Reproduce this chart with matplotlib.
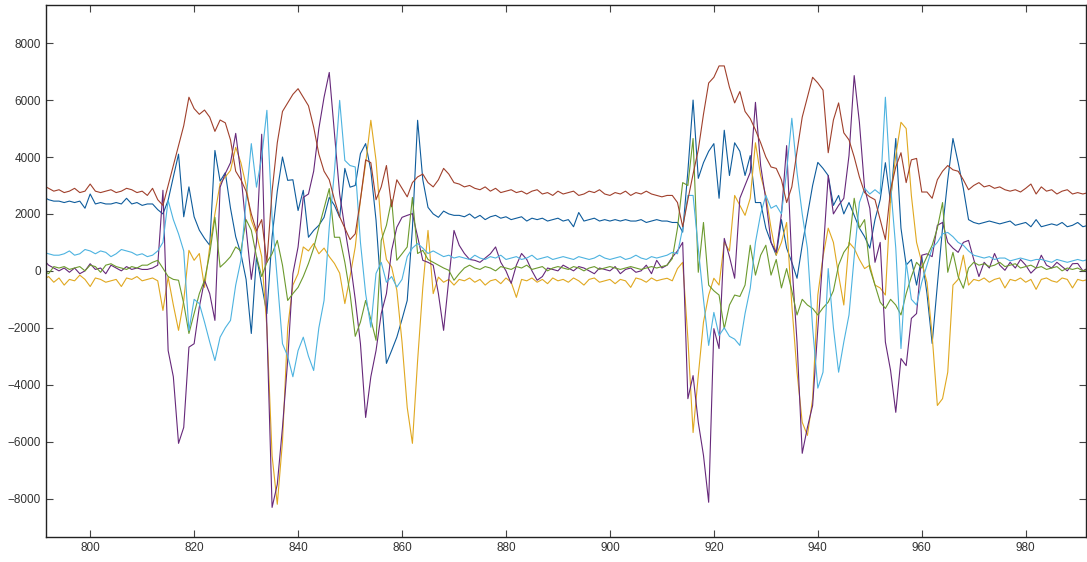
import numpy as np
import matplotlib as mpl
mpl.use('Agg')
import matplotlib.pyplot as plt

# sample index (x axis)
x = np.arange(791, 993)

blue = [2600, 2500, 2450, 2450, 2400, 2450, 2400, 2450, 2200, 2700,
        2350, 2400, 2350, 2350, 2400, 2350, 2550, 2350, 2400, 2300,
        2350, 2350, 2150, 2000, 2480, 3300, 4100, 1900, 2950, 1900,
        1430, 1140, 900, 4230, 3150, 3450, 2200, 1200, 600, -300,
        -2200, 500, -500, -1500, 1200, 2800, 4000, 3180, 3200, 2120,
        2830, 1180, 1420, 1600, 1880, 2580, 2300, 1880, 3600, 2940,
        3000, 4120, 4470, 3530, 1780, -790, -3250, -2800, -2330, -1700,
        -1040, 1500, 5290, 3200, 2230, 2000, 1880, 2100, 2000, 1950,
        1950, 1900, 2000, 1850, 1950, 1800, 1900, 1950, 1850, 1900,
        1800, 1850, 1900, 1750, 1850, 1800, 1850, 1750, 1800, 1850,
        1750, 1800, 1550, 2050, 1750, 1800, 1850, 1750, 1800, 1750,
        1800, 1750, 1800, 1750, 1750, 1800, 1700, 1750, 1800, 1750,
        1750, 1700, 1700, 1360, 3500, 6000, 3250, 3800, 4200, 4470,
        2550, 4940, 3350, 4500, 4200, 3350, 4050, 2400, 2400, 1500,
        1000, 550, 1800, 800, 300, -260, 900, 1950, 3000, 3810,
        3600, 3350, 2300, 2650, 2000, 2400, 1950, 1500, 1200, 800,
        1800, 2500, 3800, 2400, 4650, 1500, 200, 400, -500, 500,
        -800, -2550, -500, 1500, 3200, 4650, 3800, 2900, 1800, 1700,
        1650, 1700, 1750, 1700, 1650, 1700, 1750, 1600, 1650, 1700,
        1550, 1800, 1550, 1600, 1650, 1600, 1700, 1550, 1600, 1700,
        1550, 1600]

yellow = [-300, -200, -400, -250, -500, -300, -350, -150, -300, -550,
          -250, -300, -400, -350, -300, -550, -250, -300, -200, -350,
          -300, -250, -350, -1390, -220, -1200, -2090, -1040, 720, 370,
          610, -580, 840, 2000, 3070, 3300, 3530, 4340, 3800, 3000,
          1780, 1300, 500, -2000, -6500, -8200, -6000, -2000, -500, -100,
          840, 700, 960, 600, 800, 500, 260, -80, -1150, -200,
          840, 2500, 3770, 5290, 3880, 1530, 400, 130, -680, -2500,
          -4800, -6060, -3150, -580, 1420, -800, -220, -400, -300, -500,
          -300, -350, -250, -400, -300, -500, -350, -300, -450, -250,
          -400, -930, -300, -350, -250, -400, -300, -450, -250, -350,
          -300, -400, -250, -350, -500, -300, -250, -400, -350, -300,
          -450, -300, -350, -580, -250, -300, -400, -250, -350, -300,
          -260, -350, 80, 300, -2380, -5680, -3680, -1800, -850, -260,
          -500, 1000, 700, 2650, 2300, 1950, 2550, 4500, 3350, 2650,
          1500, 550, 1000, 1700, -1200, -3560, -5320, -5780, -4500, -850,
          500, 1500, 1000, -150, -1200, 1000, 790, 400, 80, 200,
          -500, -600, -850, 2550, 4050, 5220, 5000, 2650, 1000, 300,
          -400, -2270, -4730, -4490, -3560, -500, -300, 550, -500, -300,
          -350, -250, -400, -300, -250, -600, -300, -350, -250, -400,
          -300, -650, -300, -250, -350, -400, -250, -300, -600, -300,
          -350, -300]

purple = [400, 200, 100, 0, 100, -50, 100, -100, 0, 250,
          50, 100, -100, 200, 100, 0, 150, 50, 100, 50,
          50, 100, 200, 2830, -2800, -3720, -6060, -5500, -2680, -2560,
          -1270, -330, -800, -1740, 2940, 3420, 3800, 4830, 3400, 1500,
          -300, 1000, 4800, -2000, -8310, -7500, -5500, -3150, -100, 840,
          2580, 2700, 3500, 5000, 6100, 6970, 4830, 2700, 1500, 370,
          -1000, -2560, -5150, -3720, -2800, -1500, -800, 720, 1530, 1880,
          1950, 2010, 1200, 370, 300, 200, -800, -2090, -300, 1420,
          900, 610, 400, 370, 300, 450, 600, 840, 300, 0,
          -440, 200, 610, 400, 0, -330, -200, 100, 50, 0,
          200, 100, 0, 150, 100, 0, -100, 100, 50, 0,
          150, -100, 50, 100, -50, 0, 200, -100, 370, 100,
          200, 480, 700, 1000, -4490, -3680, -5320, -6480, -8130, -2030,
          -2730, 1140, 500, -260, 2550, 3000, 3460, 5920, 3700, 2500,
          1000, 650, 2000, 4400, 300, -2500, -6410, -5500, -4730, -2030,
          550, 3350, 2000, 2300, 2550, 4050, 6860, 5220, 2900, 2200,
          300, 1000, -2500, -3500, -4970, -3080, -3330, -1670, -1500, 550,
          600, 500, 1600, 1700, 1000, 800, 650, 1000, 1070, 400,
          -200, 300, 100, 610, 200, 20, 300, 100, 400, 200,
          -80, 100, 550, 200, 100, 300, 150, 0, 250, 260,
          0, 100]

green = [0, -100, 150, 100, 150, 50, 100, 150, 0, 200,
         150, -50, 200, 250, 150, 100, 50, 150, 100, 200,
         200, 300, 370, 90, -200, -300, -330, -1150, -2200, -1500,
         -800, -330, 600, 1880, 130, 300, 500, 840, 700, 1800,
         1430, 500, -200, 300, 600, 1070, 200, -1040, -800, -580,
         -200, 260, 800, 1530, 2200, 2890, 1180, 1180, 300, -800,
         -2300, -1800, -1040, -1700, -2440, 1070, 1600, 2500, 370, 600,
         840, 2580, 610, 720, 400, 300, 200, 100, 20, -330,
         -100, 100, 200, 100, 50, 150, 100, 0, 150, 100,
         50, 150, 100, 200, 50, 100, 150, 0, 100, 150,
         100, 50, 150, 100, 0, 100, 150, 50, 100, 150,
         100, 50, 100, 150, 100, 50, 100, 150, 100, 150,
         200, 430, 1500, 3100, 3000, 4650, -50, 1700, -500, -700,
         -850, -2030, -1200, -850, -900, -500, 900, -150, 550, 900,
         -150, 400, -600, 80, -700, -1550, -1000, -1200, -1320, -1550,
         -1300, -1100, -700, 200, 650, 900, 2550, 1500, 1800, 80,
         -500, -1100, -1320, -1000, -1200, -1550, -800, -200, 300, 100,
         500, 900, 1500, 2400, -50, 650, -200, -610, 100, 300,
         200, 250, 150, 200, 300, 150, 200, 250, 100, 150,
         200, 100, 150, 50, 100, 150, 0, 100, 50, 100,
         0, 50]

lightblue = [650, 600, 550, 550, 600, 700, 550, 600, 750, 700,
             600, 700, 650, 500, 600, 750, 700, 650, 550, 600,
             500, 550, 700, 1000, 2480, 1800, 1300, 700, -2100, -1000,
             -1150, -1800, -2500, -3150, -2330, -2000, -1740, -500, 370, 2500,
             4470, 2940, 4000, 5640, 1880, -300, -2560, -3000, -3720, -2800,
             -2330, -3000, -3500, -2000, -1040, 1530, 3500, 5990, 3880, 3700,
             3650, 1000, -800, -1980, -90, 300, -400, -200, -570, -300,
             500, 800, 960, 800, 610, 700, 600, 500, 550, 450,
             500, 450, 400, 550, 450, 400, 500, 450, 550, 400,
             450, 500, 400, 450, 550, 400, 450, 500, 400, 450,
             500, 450, 400, 500, 450, 400, 450, 550, 450, 400,
             450, 500, 400, 450, 550, 450, 400, 500, 450, 500,
             550, 650, 600, 1500, 2650, 2650, 790, -1000, -2620, -1460,
             -2270, -2000, -2300, -2400, -2620, -1500, -610, 1000, 2000, 2650,
             2200, 2300, 2000, 3500, 5360, 3460, 2000, 790, -2000, -4120,
             -3560, 80, -2000, -3560, -2500, -1550, 500, 2400, 2900, 2700,
             2850, 2700, 6100, 3000, 800, -2730, 300, -1000, -1200, -400,
             200, 800, 1000, 1300, 1350, 1200, 1000, 900, 700, 550,
             500, 450, 500, 400, 450, 450, 350, 400, 450, 400,
             350, 400, 400, 350, 300, 400, 350, 300, 350, 400,
             350, 400]

red = [3000, 2900, 2800, 2850, 2750, 2800, 2900, 2750, 2800, 3050,
       2800, 2750, 2800, 2850, 2750, 2800, 2900, 2850, 2750, 2800,
       2650, 2900, 2500, 2300, 3000, 3700, 4400, 5100, 6100, 5700,
       5500, 5650, 5400, 4900, 5300, 5200, 4600, 3500, 3200, 2800,
       2000, 1400, 1800, 300, 2800, 4500, 5600, 5900, 6200, 6400,
       6100, 5800, 5050, 4100, 3500, 3200, 2500, 1900, 1500, 1100,
       1300, 2500, 3900, 3800, 2500, 2950, 3700, 2250, 3200, 2900,
       2600, 3100, 3300, 3400, 3100, 2950, 3200, 3600, 3400, 3100,
       3050, 2950, 3000, 2900, 2850, 2950, 2800, 2900, 2750, 2800,
       2850, 2750, 2800, 2700, 2800, 2850, 2700, 2750, 2650, 2800,
       2700, 2750, 2800, 2650, 2700, 2800, 2750, 2850, 2700, 2650,
       2750, 2700, 2800, 2650, 2750, 2700, 2800, 2700, 2650, 2600,
       2650, 2650, 2400, 1550, 2500, 3400, 4250, 5500, 6600, 6800,
       7200, 7200, 6450, 5900, 6300, 5600, 5350, 4950, 4500, 4000,
       3650, 3600, 3200, 2400, 2950, 4200, 5400, 6100, 6800, 6600,
       6350, 4150, 5300, 5900, 4850, 4600, 4000, 3300, 2750, 2600,
       2500, 1800, 1100, 2850, 3650, 4150, 3100, 3900, 3950, 2770,
       2770, 2550, 3200, 3500, 3700, 3550, 3500, 3200, 2850, 3000,
       3100, 2950, 3000, 2900, 2950, 2850, 2800, 2850, 2770, 2900,
       3050, 2700, 2950, 2800, 2850, 2700, 2800, 2850, 2700, 2750,
       2700, 2750]

series = [blue, yellow, purple, green, lightblue, red]
colors = ['#0e5c9c', '#e0a820', '#66287a', '#6c9a2e', '#4db3e0', '#a0402c']

fig = plt.figure(figsize=(10.87, 5.62), dpi=100)
ax = fig.add_axes([46 / 1087, 25 / 562, 1040 / 1087, 532 / 562])

for s, c in zip(series, colors):
    ax.plot(x, s, color=c, lw=0.8)

ax.set_xlim(791.5, 991.6)
ax.set_ylim(-9350, 9340)
ax.set_xticks(np.arange(800, 981, 20))
ax.set_yticks(np.arange(-8000, 8001, 2000))

ax.tick_params(direction='in', length=5, width=0.8, top=True, right=True,
               colors='#444444', labelsize=8.5, labelcolor='#333333')
for lab in ax.get_xticklabels() + ax.get_yticklabels():
    lab.set_fontfamily(['Liberation Sans', 'DejaVu Sans'])
for sp in ax.spines.values():
    sp.set_linewidth(1.0)
    sp.set_color('#222222')

plt.savefig('out.png', dpi=100)
